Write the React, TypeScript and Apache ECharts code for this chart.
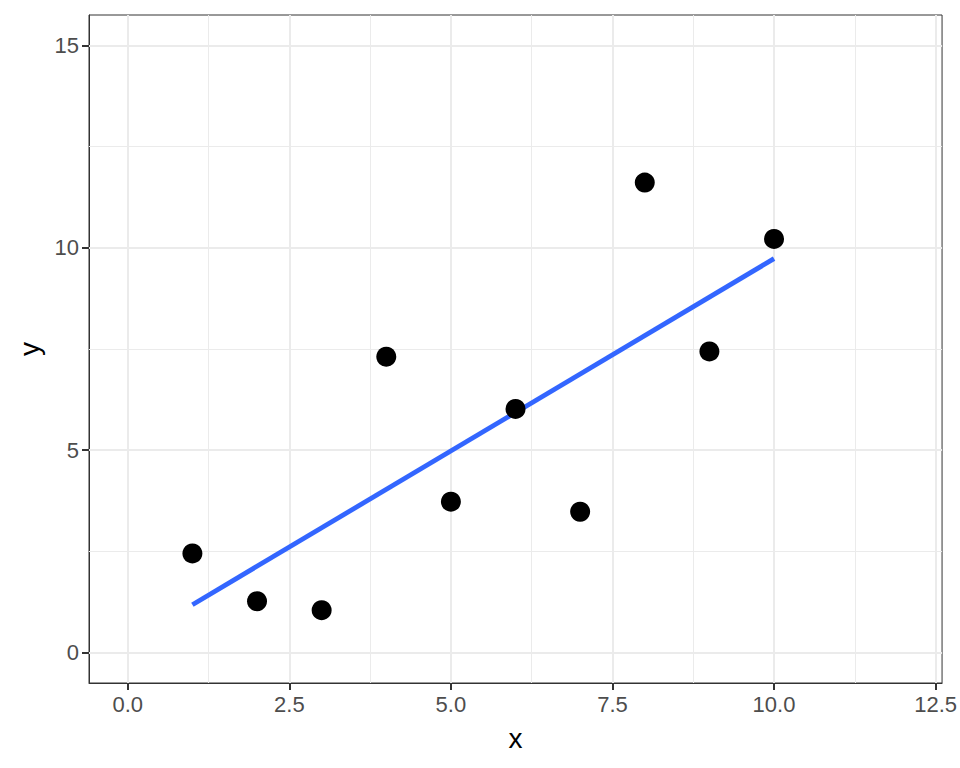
import React, { useEffect, useRef } from "react";
import * as echarts from "echarts";

const xValues = [1, 2, 3, 4, 5, 6, 7, 8, 9, 10];
const yValues = [2.45, 1.27, 1.05, 7.31, 3.73, 6.02, 3.48, 11.61, 7.44, 10.22];
const xMajor = [0, 2.5, 5, 7.5, 10, 12.5];
const xMinor = [1.25, 3.75, 6.25, 8.75, 11.25];
const yMajor = [0, 5, 10, 15];
const yMinor = [2.5, 7.5, 12.5];
const xTickLabels = ["0.0", "2.5", "5.0", "7.5", "10.0", "12.5"];
const yTickLabels = ["0", "5", "10", "15"];

function fitLine(xs: number[], ys: number[]) {
  const n = xs.length;
  const mx = xs.reduce((a, b) => a + b, 0) / n;
  const my = ys.reduce((a, b) => a + b, 0) / n;
  let sxy = 0;
  let sxx = 0;
  for (let i = 0; i < n; i++) {
    sxy += (xs[i] - mx) * (ys[i] - my);
    sxx += (xs[i] - mx) * (xs[i] - mx);
  }
  const b = sxy / sxx;
  const a = my - b * mx;
  const x0 = Math.min(...xs);
  const x1 = Math.max(...xs);
  return [
    [x0, a + b * x0],
    [x1, a + b * x1],
  ];
}

const FONT = "'Liberation Sans', Arial, Helvetica, sans-serif";

export default function App() {
  const ref = useRef<HTMLDivElement>(null);
  useEffect(() => {
    if (!ref.current) return;
    const chart = echarts.init(ref.current, undefined, { renderer: "svg" });
    const gridLines: any[] = [];
    xMajor.forEach((v) =>
      gridLines.push({ xAxis: v, lineStyle: { color: "#EBEBEB", width: 2, type: "solid" } })
    );
    xMinor.forEach((v) =>
      gridLines.push({ xAxis: v, lineStyle: { color: "#EBEBEB", width: 1, type: "solid" } })
    );
    yMajor.forEach((v) =>
      gridLines.push({ yAxis: v, lineStyle: { color: "#EBEBEB", width: 2, type: "solid" } })
    );
    yMinor.forEach((v) =>
      gridLines.push({ yAxis: v, lineStyle: { color: "#EBEBEB", width: 1, type: "solid" } })
    );
    const fit = fitLine(xValues, yValues);
    chart.setOption({
      animation: false,
      backgroundColor: "#FFFFFF",
      textStyle: { fontFamily: FONT },
      grid: {
        left: 89,
        top: 15,
        right: 15,
        bottom: 85,
        show: true,
        borderColor: "#333333",
        borderWidth: 1,
        backgroundColor: "transparent",
      },
      xAxis: {
        type: "value",
        min: -0.6,
        max: 12.6,
        name: "x",
        nameLocation: "middle",
        nameGap: 41,
        nameTextStyle: { color: "#000000", fontSize: 28, fontFamily: FONT },
        axisLine: { show: true, onZero: false, lineStyle: { color: "#333333", width: 1 } },
        axisTick: {
          show: true,
          length: 7,
          lineStyle: { color: "#333333", width: 2 },
          customValues: xMajor,
        },
        axisLabel: {
          color: "#4D4D4D",
          fontSize: 22,
          margin: 10,
          fontFamily: FONT,
          customValues: xMajor,
          formatter: (v: number) => {
            const i = xMajor.indexOf(v);
            return i >= 0 ? xTickLabels[i] : "";
          },
        },
        splitLine: { show: false },
      },
      yAxis: {
        type: "value",
        min: -0.75,
        max: 15.75,
        name: "y",
        nameLocation: "middle",
        nameGap: 46,
        nameRotate: 90,
        nameTextStyle: { color: "#000000", fontSize: 28, fontFamily: FONT },
        axisLine: { show: true, onZero: false, lineStyle: { color: "#333333", width: 1 } },
        axisTick: {
          show: true,
          length: 7,
          lineStyle: { color: "#333333", width: 2 },
          customValues: yMajor,
        },
        axisLabel: {
          color: "#4D4D4D",
          fontSize: 22,
          margin: 10,
          fontFamily: FONT,
          customValues: yMajor,
          formatter: (v: number) => {
            const i = yMajor.indexOf(v);
            return i >= 0 ? yTickLabels[i] : "";
          },
        },
        splitLine: { show: false },
      },
      series: [
        {
          type: "scatter",
          data: [],
          z: 1,
          silent: true,
          markLine: {
            silent: true,
            z: 1,
            symbol: ["none", "none"],
            label: { show: false },
            emphasis: { disabled: true },
            data: gridLines,
          },
        },
        {
          type: "line",
          data: fit,
          z: 10,
          symbol: "none",
          silent: true,
          lineStyle: { color: "#3366FF", width: 4.8 },
        },
        {
          type: "scatter",
          data: xValues.map((x, i) => [x, yValues[i]]),
          z: 11,
          symbolSize: 20,
          itemStyle: { color: "#000000", opacity: 1 },
        },
      ],
    });
    return () => chart.dispose();
  }, []);
  return (
    <div
      ref={ref}
      style={{ position: "fixed", left: 0, top: 0, width: 960, height: 768 }}
    />
  );
}
